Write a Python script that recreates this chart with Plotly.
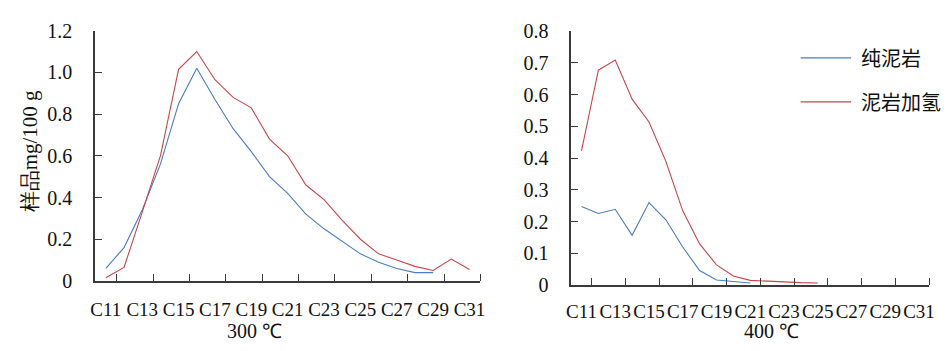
import plotly.graph_objects as go

categories = ["C%d" % n for n in range(11, 32)]
tick_labels = ["C11", "C13", "C15", "C17", "C19", "C21", "C23", "C25", "C27", "C29", "C31"]

# 300 ℃
pure_300 = [0.06, 0.16, 0.34, 0.56, 0.85, 1.02, 0.87, 0.73, 0.62, 0.50, 0.42,
            0.32, 0.25, 0.19, 0.13, 0.09, 0.06, 0.04, 0.04, None, None]
hydro_300 = [0.015, 0.065, 0.33, 0.60, 1.015, 1.10, 0.965, 0.88, 0.83, 0.68, 0.60,
             0.46, 0.39, 0.29, 0.20, 0.13, 0.10, 0.07, 0.05, 0.105, 0.055]
# 400 ℃
pure_400 = [0.248, 0.226, 0.239, 0.157, 0.26, 0.206, 0.12, 0.046, 0.016, 0.011, 0.007,
            None, None, None, None, None, None, None, None, None, None]
hydro_400 = [0.423, 0.677, 0.709, 0.586, 0.514, 0.39, 0.234, 0.13, 0.064, 0.029, 0.015,
             0.012, 0.010, 0.008, 0.007, None, None, None, None, None, None]

y300_ticks = [0, 0.2, 0.4, 0.6, 0.8, 1.0, 1.2]
y300_text = ["0", "0.2", "0.4", "0.6", "0.8", "1.0", "1.2"]
y400_ticks = [0, 0.1, 0.2, 0.3, 0.4, 0.5, 0.6, 0.7, 0.8]
y400_text = ["0", "0.1", "0.2", "0.3", "0.4", "0.5", "0.6", "0.7", "0.8"]

series_names = ["纯泥岩", "泥岩加氢"]
BLUE = "#4a7cc4"
RED = "#c8464a"

xi = list(range(len(categories)))
label_pos = [categories.index(t) for t in tick_labels]
tickmark_pos = [p + 0.6 for p in label_pos]

W, H = 948, 351

def px(x):
    return x / W

def py(y):
    return (H - y) / H

SERIF = "Liberation Serif"
CJK = "Noto Sans CJK SC"
TXT = "#111111"

fig = go.Figure()
fig.add_trace(go.Scatter(x=xi, y=pure_300, mode="lines", line=dict(color=BLUE, width=1.1),
                         name=series_names[0], xaxis="x", yaxis="y", showlegend=False))
fig.add_trace(go.Scatter(x=xi, y=hydro_300, mode="lines", line=dict(color=RED, width=1.1),
                         name=series_names[1], xaxis="x", yaxis="y", showlegend=False))
fig.add_trace(go.Scatter(x=xi, y=pure_400, mode="lines", line=dict(color=BLUE, width=1.1),
                         name=series_names[0], xaxis="x2", yaxis="y2", showlegend=False))
fig.add_trace(go.Scatter(x=xi, y=hydro_400, mode="lines", line=dict(color=RED, width=1.1),
                         name=series_names[1], xaxis="x2", yaxis="y2", showlegend=False))

def xaxis(domain, anchor, standoff):
    return dict(domain=domain, anchor=anchor, range=[-0.6, 20.6],
                tickmode="array", tickvals=label_pos, ticktext=tick_labels,
                ticks="", showgrid=False, zeroline=False,
                showline=True, linecolor="#3a3a3a", linewidth=1.5,
                tickfont=dict(family=SERIF, size=19, color=TXT),
                ticklabelstandoff=standoff,
                minor=dict(tickmode="array", tickvals=tickmark_pos, ticks="inside",
                           ticklen=7, tickcolor="#3a3a3a", tickwidth=1.2, showgrid=False))

def yaxis(domain, anchor, rng, tv, tt):
    return dict(domain=domain, anchor=anchor, range=rng,
                tickmode="array", tickvals=tv, ticktext=tt,
                ticks="inside", ticklen=7, tickcolor="#3a3a3a", tickwidth=1.2,
                showgrid=False, zeroline=False,
                showline=True, linecolor="#3a3a3a", linewidth=1.5,
                tickfont=dict(family=SERIF, size=20, color=TXT),
                ticklabelstandoff=17)

fig.update_layout(
    width=W, height=H,
    margin=dict(l=0, r=0, t=0, b=0),
    paper_bgcolor="white", plot_bgcolor="white",
    xaxis=xaxis([px(91), px(481)], "y", 11),
    yaxis=yaxis([py(288), py(21)], "x", [0, 1.2], y300_ticks, y300_text),
    xaxis2=xaxis([px(573), px(935)], "y2", 8),
    yaxis2=yaxis([py(292.5), py(21.5)], "x2", [0, 0.8], y400_ticks, y400_text),
    showlegend=False,
)

ann = [
    dict(text="样品mg/100 g", x=px(25), y=py(150), textangle=-90,
         font=dict(family=SERIF, size=21, color=TXT)),
    dict(text="300 ℃", x=px(252), y=py(341), font=dict(family=SERIF, size=20, color=TXT)),
    dict(text="400 ℃", x=px(776), y=py(341), font=dict(family=SERIF, size=20, color=TXT)),
]
for a in ann:
    a.update(xref="paper", yref="paper", showarrow=False, xanchor="center", yanchor="middle")

# legend drawn manually
legend_items = [(series_names[0], BLUE, 50), (series_names[1], RED, 97)]
for name, col, ypx in legend_items:
    fig.add_shape(type="line", xref="paper", yref="paper",
                  x0=px(805), x1=px(856), y0=py(ypx), y1=py(ypx),
                  line=dict(color=col, width=1.2))
    ann.append(dict(text=name, xref="paper", yref="paper", x=px(864), y=py(ypx),
                    xanchor="left", yanchor="middle", showarrow=False,
                    font=dict(family=CJK, size=20, color=TXT)))

fig.update_layout(annotations=ann)
fig.write_html("out.html", config={"displayModeBar": False},
               post_script="document.body.style.margin='0';document.body.style.overflow='hidden';")
